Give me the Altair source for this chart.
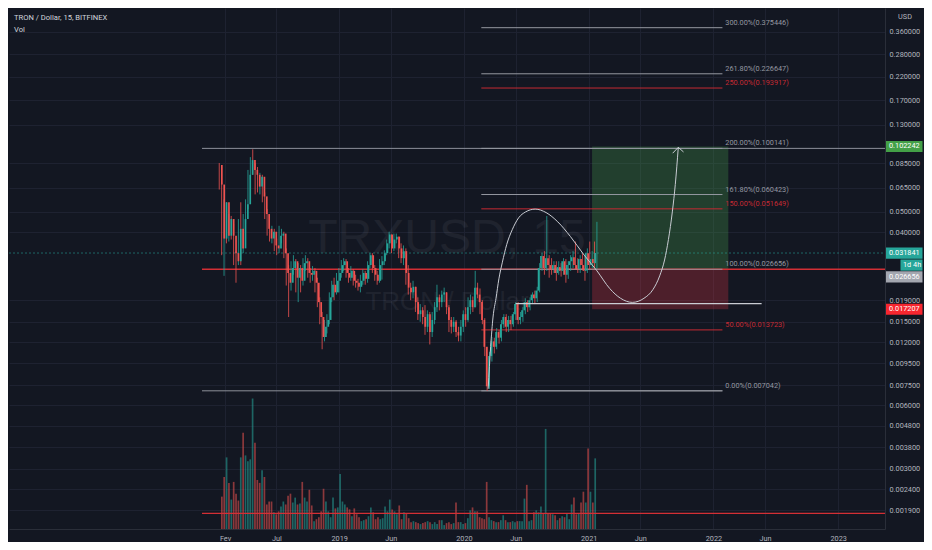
import altair as alt
import pandas as pd

# ---------------- data ----------------
first_week = "2018-01-15"          # first weekly candle
first_open = 0.0835
closes = [0.0674, 0.0373, 0.0555, 0.0385, 0.0462, 0.0385, 0.0318, 0.0291, 0.0415, 0.0335,
          0.0462, 0.0543, 0.0750, 0.0881, 0.0791, 0.0750, 0.0659, 0.0734, 0.0592, 0.0488,
          0.0415, 0.0373, 0.0402, 0.0346, 0.0335, 0.0385, 0.0394, 0.0318, 0.0256, 0.0230,
          0.0270, 0.0291, 0.0243, 0.0270, 0.0235, 0.0285, 0.0291, 0.0256, 0.0251, 0.0262,
          0.0230, 0.0186, 0.0158, 0.0127, 0.0142, 0.0153, 0.0196, 0.0225, 0.0207, 0.0235,
          0.0256, 0.0279, 0.0291, 0.0256, 0.0243, 0.0262, 0.0235, 0.0230, 0.0220, 0.0235,
          0.0256, 0.0240, 0.0279, 0.0311, 0.0270, 0.0251, 0.0235, 0.0279, 0.0291, 0.0318,
          0.0354, 0.0390, 0.0335, 0.0369, 0.0381, 0.0335, 0.0301, 0.0325, 0.0256, 0.0218,
          0.0207, 0.0220, 0.0186, 0.0163, 0.0170, 0.0158, 0.0142, 0.0163, 0.0134, 0.0153,
          0.0176, 0.0196, 0.0186, 0.0202, 0.0207, 0.0176, 0.0153, 0.0142, 0.0150, 0.0134,
          0.0129, 0.0142, 0.0163, 0.0153, 0.0176, 0.0190, 0.0176, 0.0218, 0.0202, 0.0186,
          0.0153, 0.0114, 0.0074, 0.0103, 0.0121, 0.0114, 0.0134, 0.0126, 0.0146, 0.0158,
          0.0142, 0.0153, 0.0146, 0.0163, 0.0182, 0.0153, 0.0158, 0.0170, 0.0186, 0.0176,
          0.0190, 0.0202, 0.0194, 0.0211, 0.0270, 0.0308, 0.0270, 0.0301, 0.0279, 0.0267,
          0.0279, 0.0256, 0.0273, 0.0262, 0.0291, 0.0251, 0.0279, 0.0291, 0.0304, 0.0279,
          0.0267, 0.0298, 0.0279, 0.0262, 0.0318, 0.0279, 0.0298, 0.0285, 0.031841]
highs = [0.0853, 0.0688, 0.0573, 0.0543, 0.0488, 0.0478, 0.0438, 0.0325, 0.0462, 0.0555,
         0.0488, 0.0573, 0.0791, 0.0910, 0.0991, 0.0853, 0.0817, 0.0766, 0.0750, 0.0618,
         0.0515, 0.0448, 0.0429, 0.0415, 0.0373, 0.0429, 0.0415, 0.0402, 0.0335, 0.0279,
         0.0291, 0.0311, 0.0298, 0.0285, 0.0279, 0.0301, 0.0311, 0.0301, 0.0270, 0.0276,
         0.0270, 0.0243, 0.0196, 0.0167, 0.0153, 0.0163, 0.0207, 0.0235, 0.0243, 0.0256,
         0.0270, 0.0295, 0.0301, 0.0298, 0.0270, 0.0276, 0.0267, 0.0251, 0.0240, 0.0251,
         0.0267, 0.0262, 0.0291, 0.0318, 0.0318, 0.0279, 0.0262, 0.0298, 0.0308, 0.0328,
         0.0369, 0.0402, 0.0385, 0.0394, 0.0394, 0.0377, 0.0354, 0.0346, 0.0335, 0.0279,
         0.0230, 0.0235, 0.0218, 0.0196, 0.0182, 0.0176, 0.0180, 0.0170, 0.0167, 0.0167,
         0.0186, 0.0225, 0.0202, 0.0211, 0.0218, 0.0207, 0.0180, 0.0158, 0.0158, 0.0153,
         0.0142, 0.0153, 0.0170, 0.0176, 0.0196, 0.0202, 0.0198, 0.0262, 0.0230, 0.0216,
         0.0190, 0.0156, 0.0114, 0.0108, 0.0127, 0.0126, 0.0140, 0.0137, 0.0153, 0.0163,
         0.0163, 0.0160, 0.0160, 0.0167, 0.0186, 0.0186, 0.0167, 0.0176, 0.0194, 0.0190,
         0.0196, 0.0207, 0.0211, 0.0220, 0.0285, 0.0318, 0.0325, 0.0478, 0.0311, 0.0301,
         0.0291, 0.0291, 0.0291, 0.0285, 0.0301, 0.0298, 0.0291, 0.0311, 0.0325, 0.0361,
         0.0301, 0.0311, 0.0318, 0.0311, 0.0335, 0.0361, 0.0325, 0.0361, 0.0448]
lows = [0.0638, 0.0311, 0.0248, 0.0354, 0.0361, 0.0369, 0.0279, 0.0230, 0.0279, 0.0279,
        0.0318, 0.0438, 0.0515, 0.0711, 0.0750, 0.0605, 0.0618, 0.0605, 0.0555, 0.0462,
        0.0385, 0.0361, 0.0354, 0.0325, 0.0311, 0.0318, 0.0354, 0.0301, 0.0223, 0.0158,
        0.0211, 0.0251, 0.0207, 0.0186, 0.0207, 0.0223, 0.0262, 0.0243, 0.0230, 0.0235,
        0.0207, 0.0176, 0.0146, 0.0111, 0.0121, 0.0132, 0.0146, 0.0186, 0.0190, 0.0202,
        0.0207, 0.0243, 0.0262, 0.0243, 0.0230, 0.0235, 0.0223, 0.0218, 0.0211, 0.0207,
        0.0225, 0.0225, 0.0230, 0.0270, 0.0256, 0.0235, 0.0225, 0.0230, 0.0238, 0.0279,
        0.0311, 0.0335, 0.0318, 0.0325, 0.0354, 0.0301, 0.0285, 0.0279, 0.0225, 0.0202,
        0.0190, 0.0194, 0.0167, 0.0153, 0.0150, 0.0146, 0.0130, 0.0134, 0.0117, 0.0127,
        0.0146, 0.0167, 0.0170, 0.0176, 0.0186, 0.0163, 0.0134, 0.0132, 0.0134, 0.0127,
        0.0121, 0.0121, 0.0134, 0.0142, 0.0150, 0.0163, 0.0167, 0.0176, 0.0194, 0.0163,
        0.0146, 0.0103, 0.007042, 0.0072, 0.0097, 0.0106, 0.0111, 0.0118, 0.0121, 0.0140,
        0.0134, 0.0134, 0.0137, 0.0142, 0.0153, 0.0146, 0.0146, 0.0150, 0.0163, 0.0167,
        0.0170, 0.0182, 0.0182, 0.0186, 0.0207, 0.0262, 0.0251, 0.0262, 0.0243, 0.0251,
        0.0256, 0.0235, 0.0251, 0.0246, 0.0251, 0.0230, 0.0240, 0.0262, 0.0270, 0.0267,
        0.0256, 0.0256, 0.0267, 0.0235, 0.0256, 0.0267, 0.0270, 0.0270, 0.0267]
volumes = [33, 53, 73, 47, 30, 48, 36, 29, 73, 98,
           75, 69, 71, 133, 88, 50, 47, 60, 53, 25,
           28, 28, 17, 15, 18, 23, 28, 25, 34, 36,
           27, 32, 25, 26, 48, 32, 28, 40, 24, 8,
           10, 12, 18, 41, 28, 18, 12, 32, 21, 22,
           56, 28, 25, 22, 20, 13, 21, 15, 12, 8,
           9, 10, 13, 22, 17, 10, 12, 10, 11, 23,
           18, 30, 20, 18, 15, 24, 10, 17, 16, 11,
           7, 8, 7, 6, 5, 6, 7, 8, 7, 5,
           7, 5, 9, 9, 4, 6, 7, 5, 6, 27,
           7, 7, 5, 6, 11, 19, 22, 18, 18, 12,
           11, 10, 48, 12, 9, 8, 7, 7, 9, 14,
           9, 7, 7, 8, 7, 8, 8, 8, 31, 45,
           8, 9, 17, 19, 17, 23, 16, 102, 16, 16,
           15, 14, 9, 11, 13, 12, 16, 10, 25, 32,
           15, 16, 27, 38, 27, 82, 38, 27, 72]

# axis ticks
x_tick_dates = ["2018-02-01", "2018-07-01", "2019-01-01", "2019-06-01", "2020-01-01", "2020-06-01",
                "2021-01-01", "2021-06-01", "2022-01-01", "2022-06-01", "2023-01-01"]
x_tick_labels = ["Fev", "Jul", "2019", "Jun", "2020", "Jun", "2021", "Jun", "2022", "Jun", "2023"]
y_tick_vals = [0.36, 0.28, 0.22, 0.17, 0.13, 0.085, 0.065, 0.05, 0.04, 0.019, 0.015, 0.012,
               0.0095, 0.0075, 0.006, 0.0048, 0.0038, 0.003, 0.0024, 0.0019]

# fibonacci extension
fib_levels = ["300.00%", "261.80%", "250.00%", "200.00%", "161.80%", "150.00%", "100.00%", "50.00%", "0.00%"]
fib_prices = [0.375446, 0.226647, 0.193917, 0.100141, 0.060423, 0.051649, 0.026656, 0.013723, 0.007042]
fib_is_red = [False, False, True, False, False, True, False, True, False]

# drawing anchors (decimal years / prices)
XMIN, XMAX = 2016.353, 2023.375
YMIN, YMAX = 0.001551, 0.4658
ray_start = 2017.900
fib_start, fib_end, fib_label_t = 2020.139, 2022.072, 2022.095
pos_t1, pos_t2 = 2021.027, 2022.119
pos_entry, pos_target, pos_stop = 0.026656, 0.102242, 0.017207
last_price = 0.031841
vol_level = 0.00184
support_t1, support_t2, support_p = 2020.414, 2022.386, 0.0183

curve_t = [2020.194, 2020.214, 2020.233, 2020.257, 2020.280, 2020.308, 2020.343, 2020.387, 2020.438,
           2020.493, 2020.571, 2020.658, 2020.752, 2020.854, 2020.964, 2021.066, 2021.168, 2021.255,
           2021.349, 2021.443, 2021.514, 2021.569, 2021.608, 2021.639, 2021.671, 2021.694, 2021.718]
curve_p = [0.0072, 0.01144, 0.0158, 0.0194, 0.0240, 0.0288, 0.0350, 0.0411, 0.0468,
           0.0499, 0.0515, 0.0496, 0.0448, 0.0381, 0.0311, 0.0262, 0.0216, 0.0194,
           0.01855, 0.0194, 0.0213, 0.0248, 0.0295, 0.0369, 0.0504, 0.0674, 0.1013]
arrow_t = [2021.673, 2021.718, 2021.760]
arrow_p = [0.0950, 0.1013, 0.0963]

# price-scale labels on the right
tag_prices = [0.102242, 0.031841, 0.0279, 0.0245, 0.017207]
tag_texts = ["0.102242", "0.031841", "1d 4h", "0.026656", "0.017207"]
tag_bg = ["#43a047", "#26a69a", "#26a69a", "#a3a6af", "#f7262f"]
tag_short = [False, False, True, False, False]

# ---------------- styles ----------------
BG = "#131722"
GRID = "#1e2231"
TEAL = "#26a69a"
RED = "#ef5350"
LABEL = "#b2b5be"
FONT = "Roboto"
FS = 7.3


def dec_year(d):
    d = pd.Timestamp(d)
    y0 = pd.Timestamp(year=d.year, month=1, day=1)
    y1 = pd.Timestamp(year=d.year + 1, month=1, day=1)
    return d.year + (d - y0) / (y1 - y0)


dates = pd.date_range(first_week, periods=len(closes), freq="7D")
opens = [first_open] + closes[:-1]
candles = pd.DataFrame({"t": [dec_year(d) for d in dates], "o": opens, "c": closes,
                        "h": highs, "l": lows, "v": volumes})
candles["h"] = candles[["h", "o", "c"]].max(axis=1)
candles["l"] = candles[["l", "o", "c"]].min(axis=1)
candles["dir"] = ["up" if c >= o else "down" for o, c in zip(opens, closes)]


def xsc():
    return alt.Scale(domain=[XMIN, XMAX], nice=False, zero=False)


def ysc():
    return alt.Scale(type="log", domain=[YMIN, YMAX], nice=False)


dir_color = alt.Color("dir:N", scale=alt.Scale(domain=["up", "down"], range=[TEAL, RED]), legend=None)


def X(f="t"):
    return alt.X(f"{f}:Q", scale=xsc(), axis=None)


def Y(f="p"):
    return alt.Y(f"{f}:Q", scale=ysc(), axis=None)


x_tick_vals = [round(dec_year(d), 4) for d in x_tick_dates]
x_expr = "".join(f"abs(datum.value - {v}) < 0.002 ? '{lab}' : " for v, lab in zip(x_tick_vals, x_tick_labels)) + "''"

x_axis = alt.Axis(values=x_tick_vals, labelExpr=x_expr, grid=True, gridColor=GRID, ticks=False,
                  domain=True, domainColor="#2a2e39", labelColor=LABEL, labelFontSize=FS, labelFont=FONT,
                  labelPadding=5, title=None, labelOverlap=False, labelFlush=False)
y_axis = alt.Axis(orient="right", values=y_tick_vals, format=".6f", grid=True, gridColor=GRID, ticks=False,
                  domain=True, domainColor="#2a2e39", labelColor=LABEL, labelFontSize=FS, labelFont=FONT,
                  labelPadding=4, title=None, labelOverlap=False, labelFlush=False)

# ---------------- layers ----------------
axes_layer = alt.Chart(candles).mark_rule(opacity=0).encode(
    x=alt.X("t:Q", scale=xsc(), axis=x_axis),
    y=alt.Y("c:Q", scale=ysc(), axis=y_axis))

volume = alt.Chart(candles).mark_bar(size=1.7, opacity=0.55).encode(
    x=X(),
    y=alt.Y("v:Q", scale=alt.Scale(domain=[0, 531], nice=False, zero=True), axis=None),
    y2=alt.Y2(datum=0),
    color=dir_color)

wm_df = pd.DataFrame({"t": [(XMIN + XMAX) / 2] * 2, "p": [0.0373, 0.0186], "txt": ["TRXUSD, 15", "TRON / Dollar"],
                      "fs": [48, 26]})
watermark = alt.Chart(wm_df).mark_text(font="Liberation Sans", color="#ffffff", opacity=0.05,
                                       align="center", baseline="middle").encode(
    x=X(), y=Y(), text="txt:N", size=alt.Size("fs:Q", scale=None))

pos_df = pd.DataFrame({"t": [pos_t1, pos_t1], "t2": [pos_t2, pos_t2],
                       "p": [pos_entry, pos_stop], "p2": [pos_target, pos_entry],
                       "col": ["#4caf50", "#f23645"], "op": [0.27, 0.26]})
position = alt.Chart(pos_df).mark_rect().encode(
    x=X(), x2="t2:Q", y=Y(), y2="p2:Q",
    color=alt.Color("col:N", scale=None), opacity=alt.Opacity("op:Q", scale=None))

price_line = alt.Chart(pd.DataFrame({"t": [XMIN], "t2": [XMAX], "p": [last_price]})).mark_rule(
    color=TEAL, strokeWidth=1, opacity=0.55, strokeDash=[2, 2]).encode(x=X(), x2="t2:Q", y=Y())

gray_df = pd.DataFrame({"t": [ray_start, ray_start], "t2": [XMAX, fib_end], "p": [0.100141, 0.007042]})
gray_lines = alt.Chart(gray_df).mark_rule(color="#8c909a", strokeWidth=1).encode(x=X(), x2="t2:Q", y=Y())

red_df = pd.DataFrame({"t": [ray_start, ray_start], "t2": [XMAX, XMAX], "p": [pos_entry, vol_level]})
red_rays = alt.Chart(red_df).mark_rule(color="#d32f35", strokeWidth=1.3).encode(x=X(), x2="t2:Q", y=Y())

fib_df = pd.DataFrame({"t": [fib_start] * len(fib_prices), "t2": [fib_end] * len(fib_prices),
                       "p": fib_prices,
                       "col": ["#c62a33" if r else "#9598a1" for r in fib_is_red],
                       "lab": [f"{l}({p:.6f})" for l, p in zip(fib_levels, fib_prices)],
                       "tl": [fib_label_t] * len(fib_prices)})
fib_lines = alt.Chart(fib_df).mark_rule(strokeWidth=1).encode(
    x=X(), x2="t2:Q", y=Y(), color=alt.Color("col:N", scale=None))
fib_labels = alt.Chart(fib_df).mark_text(align="left", baseline="middle", dy=-5, fontSize=FS, font=FONT).encode(
    x=X("tl"), y=Y(), text="lab:N", color=alt.Color("col:N", scale=None))

wicks = alt.Chart(candles).mark_rule(strokeWidth=0.8).encode(
    x=X(), y=Y("l"), y2="h:Q", color=dir_color)
bodies = alt.Chart(candles).mark_bar(size=1.7).encode(x=X(), y=Y("o"), y2="c:Q", color=dir_color)

support = alt.Chart(pd.DataFrame({"t": [support_t1], "t2": [support_t2], "p": [support_p]})).mark_rule(
    color="#c9ccd3", strokeWidth=1.2).encode(x=X(), x2="t2:Q", y=Y())

curve = alt.Chart(pd.DataFrame({"t": curve_t, "p": curve_p})).mark_line(
    color="#c9ccd3", strokeWidth=1.0, interpolate="monotone").encode(x=X(), y=Y())
arrow = alt.Chart(pd.DataFrame({"t": arrow_t, "p": arrow_p})).mark_line(
    color="#c9ccd3", strokeWidth=1.0).encode(x=X(), y=Y())

title1 = alt.Chart(pd.DataFrame({"t": [XMIN], "p": [YMAX], "txt": ["TRON / Dollar, 15, BITFINEX"]})).mark_text(
    align="left", baseline="middle", dx=5, dy=10, fontSize=7.6, font=FONT, color="#d1d4dc").encode(
    x=X(), y=Y(), text="txt:N")
title2 = alt.Chart(pd.DataFrame({"t": [XMIN], "p": [YMAX], "txt": ["Vol"]})).mark_text(
    align="left", baseline="middle", dx=5, dy=22, fontSize=7.6, font=FONT, color="#d1d4dc").encode(
    x=X(), y=Y(), text="txt:N")

usd = alt.Chart(pd.DataFrame({"t": [XMAX], "p": [YMAX], "txt": ["USD"]})).mark_text(
    align="center", baseline="middle", dx=20, dy=9, fontSize=FS, font=FONT, color=LABEL).encode(
    x=X(), y=Y(), text="txt:N")

tag_df = pd.DataFrame({"t": [XMAX] * len(tag_prices), "p": tag_prices, "txt": tag_texts,
                       "bg": tag_bg, "short": tag_short})
long_path = "M0.1,-0.56L3.75,-0.56L3.75,0.56L0.1,0.56Z"
short_path = "M1.55,-0.56L3.75,-0.56L3.75,0.56L1.55,0.56Z"
tag_long_box = alt.Chart(tag_df[~tag_df["short"]]).mark_point(
    shape=long_path, size=400, filled=True, opacity=1, strokeWidth=0).encode(
    x=X(), y=Y(), color=alt.Color("bg:N", scale=None))
tag_short_box = alt.Chart(tag_df[tag_df["short"]]).mark_point(
    shape=short_path, size=400, filled=True, opacity=1, strokeWidth=0).encode(
    x=X(), y=Y(), color=alt.Color("bg:N", scale=None))
tag_long_txt = alt.Chart(tag_df[~tag_df["short"]]).mark_text(
    align="left", baseline="middle", dx=4, fontSize=FS, font=FONT, color="#ffffff").encode(
    x=X(), y=Y(), text="txt:N")
tag_short_txt = alt.Chart(tag_df[tag_df["short"]]).mark_text(
    align="left", baseline="middle", dx=18, fontSize=FS, font=FONT, color="#ffffff").encode(
    x=X(), y=Y(), text="txt:N")

chart = alt.layer(
    axes_layer, volume, watermark, position, price_line, gray_lines, red_rays, fib_lines,
    wicks, bodies, support, curve, arrow, fib_labels, title1, title2, usd,
    tag_long_box, tag_short_box, tag_long_txt, tag_short_txt
).resolve_scale(x="independent", y="independent").properties(
    width=916, height=534,
    autosize=alt.AutoSizeParams(type="fit", contains="padding"),
    padding={"left": 0, "top": 0, "right": 1, "bottom": 0},
    background=BG,
).configure_view(stroke=None)

chart.save("out.html", embed_options={"renderer": "svg", "actions": False})
